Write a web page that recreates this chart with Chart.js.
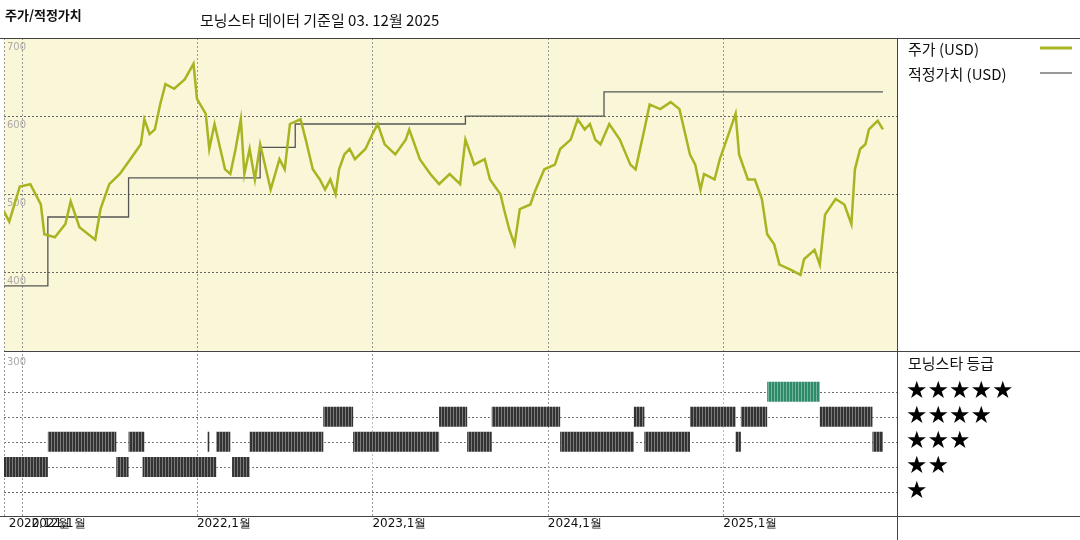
<!DOCTYPE html>
<html><head><meta charset="utf-8">
<script src="https://cdn.jsdelivr.net/npm/chart.js@4"></script>
<style>html,body{margin:0;background:#fff}#c{display:block}</style></head>
<body><canvas id="c" width="1080" height="540"></canvas>
<script>
const priceT=[2020.90,2020.93,2020.99,2021.05,2021.11,2021.13,2021.19,2021.25,2021.28,2021.33,2021.42,2021.45,2021.50,2021.56,2021.62,2021.68,2021.70,2021.73,2021.76,2021.79,2021.82,2021.87,2021.93,2021.98,2022.00,2022.05,2022.07,2022.10,2022.16,2022.19,2022.22,2022.25,2022.27,2022.30,2022.33,2022.36,2022.42,2022.47,2022.50,2022.53,2022.59,2022.62,2022.66,2022.70,2022.73,2022.76,2022.79,2022.81,2022.84,2022.87,2022.90,2022.96,2023.00,2023.03,2023.07,2023.13,2023.19,2023.21,2023.27,2023.33,2023.38,2023.44,2023.50,2023.53,2023.56,2023.58,2023.64,2023.67,2023.73,2023.75,2023.78,2023.81,2023.84,2023.90,2023.93,2023.98,2024.04,2024.07,2024.13,2024.17,2024.21,2024.24,2024.27,2024.30,2024.35,2024.41,2024.47,2024.50,2024.55,2024.58,2024.64,2024.70,2024.75,2024.81,2024.84,2024.87,2024.89,2024.95,2024.98,2025.03,2025.07,2025.09,2025.14,2025.18,2025.22,2025.25,2025.29,2025.32,2025.38,2025.44,2025.46,2025.52,2025.55,2025.58,2025.64,2025.69,2025.73,2025.75,2025.78,2025.81,2025.83,2025.88,2025.91];
const priceV=[478,465,510,513,487,449,445,462,491,458,442,481,513,526,545,564,596,577,583,615,641,635,647,667,622,603,558,590,532,526,558,596,526,558,519,564,506,545,532,590,596,570,532,519,506,519,500,532,551,558,545,558,577,590,564,551,570,583,545,526,513,526,513,570,551,538,545,519,500,481,455,436,481,487,506,532,538,558,570,596,583,590,570,564,590,570,538,532,583,615,609,618,609,551,538,506,526,519,545,577,603,551,519,519,494,449,436,410,404,397,417,429,410,474,494,487,462,532,558,564,583,594,583];
const fairT=[2020.90,2021.15,2021.61,2022.36,2022.56,2023.53,2024.32,2025.91];
const fairV=[383,471,521,560,590,600,631,631];
const rating2=[[2020.89,2021.15],[2021.54,2021.61],[2021.69,2022.11],[2022.20,2022.30]];
const rating3=[[2021.15,2021.54],[2021.61,2021.70],[2022.06,2022.07],[2022.11,2022.19],[2022.30,2022.72],[2022.89,2023.38],[2023.54,2023.68],[2024.07,2024.49],[2024.55,2024.81],[2025.07,2025.10],[2025.85,2025.91]];
const rating4=[[2022.72,2022.89],[2023.38,2023.54],[2023.68,2024.07],[2024.49,2024.55],[2024.81,2025.07],[2025.10,2025.25],[2025.55,2025.85]];
const rating5=[[2025.25,2025.55]];
const priceTicks=[400,500,600,700];
const xTicks=[[2020.95,'2020,12월'],[2021.0,'2021,1월'],[2022,'2022,1월'],[2023,'2023,1월'],[2024,'2024,1월'],[2025,'2025,1월']];
const stars=['★★★★★','★★★★','★★★','★★','★'];

function ratingVal(r){ // rating band below the price band: 25px per step
  return 300-(41+(5-r)*25)/0.78;
}
function segs(list,r){const d=[];list.forEach(s=>{d.push({x:s[0],y:ratingVal(r)},{x:s[1],y:ratingVal(r)},{x:s[1],y:null});});return d;}
const barDs=(list,r,col)=>({type:'line',data:segs(list,r),borderColor:col,borderWidth:20,borderCapStyle:'butt',pointRadius:0,spanGaps:false,order:3});

const deco={id:'deco',
 beforeDatasetsDraw(ch){const c=ch.ctx,x=ch.scales.x,y=ch.scales.y,a=ch.chartArea;
  c.save();
  const y300=y.getPixelForValue(300);
  c.fillStyle='#faf6d8';c.fillRect(a.left,a.top,a.right-a.left,y300-a.top);
  c.strokeStyle='#666';c.lineWidth=1;c.setLineDash([2,2]);
  priceTicks.forEach(v=>{const p=Math.round(y.getPixelForValue(v))+.5;c.beginPath();c.moveTo(a.left,p);c.lineTo(a.right,p);c.stroke();});
  [1,2,3,4,5].forEach(r=>{const p=Math.round(y.getPixelForValue(ratingVal(r)))+.5;c.beginPath();c.moveTo(a.left,p);c.lineTo(a.right,p);c.stroke();});
  c.strokeStyle='#999';
  [2021,2022,2023,2024,2025].forEach(t=>{const p=Math.round(x.getPixelForValue(t))+.5;c.beginPath();c.moveTo(p,a.top);c.lineTo(p,a.bottom);c.stroke();});
  c.beginPath();c.moveTo(a.left+.5,a.top);c.lineTo(a.left+.5,a.bottom);c.stroke();
  c.setLineDash([]);c.strokeStyle='#444';
  c.beginPath();c.moveTo(a.left,Math.round(y300)+.5);c.lineTo(1080,Math.round(y300)+.5);c.stroke();
  c.fillStyle='#aaa';c.font='10px "DejaVu Sans"';c.textBaseline='middle';
  [300,400,500,600,700].forEach(v=>c.fillText(String(v),a.left+3,y.getPixelForValue(v)+(v==300?12:9)));
  c.restore();},
 afterDatasetsDraw(ch){const c=ch.ctx;c.save();c.strokeStyle='rgba(255,255,255,0.35)';c.lineWidth=1;
  for(let px=0;px<900;px+=3){c.beginPath();c.moveTo(px+.5,381);c.lineTo(px+.5,478);c.stroke();}
  c.restore();},
 afterDraw(ch){const c=ch.ctx,x=ch.scales.x,a=ch.chartArea;c.save();
  c.strokeStyle='#444';c.lineWidth=1;
  c.beginPath();c.moveTo(0,a.top+.5);c.lineTo(1080,a.top+.5);c.stroke();
  c.beginPath();c.moveTo(0,a.bottom+.5);c.lineTo(1080,a.bottom+.5);c.stroke();
  c.beginPath();c.moveTo(a.right+.5,a.top);c.lineTo(a.right+.5,540);c.stroke();
  c.fillStyle='#111';c.font='12px "DejaVu Sans"';c.textBaseline='top';
  xTicks.forEach(t=>c.fillText(t[1],x.getPixelForValue(t[0])-(t[0]<2021.5?(t[0]<2021?4:-10):0),518));
  c.font='bold 13px "Noto Sans CJK KR"';c.textBaseline='middle';c.fillText('주가/적정가치',5,15);
  c.font='15px "Noto Sans CJK KR"';c.fillText('모닝스타 데이터 기준일 03. 12월 2025',200,20);
  c.font='15px "Noto Sans CJK KR"';
  c.fillText('주가 (USD)',908,49);c.fillText('적정가치 (USD)',908,74);c.fillText('모닝스타 등급',908,363);
  c.strokeStyle='#a8b420';c.lineWidth=3;c.beginPath();c.moveTo(1040,48);c.lineTo(1072,48);c.stroke();
  c.strokeStyle='#555';c.lineWidth=1.2;c.beginPath();c.moveTo(1040,73);c.lineTo(1072,73);c.stroke();
  c.font='24px "DejaVu Sans"';c.fillStyle='#000';
  stars.forEach((s,i)=>c.fillText(s,906,392+i*25));
  c.restore();}
};

new Chart(document.getElementById('c'),{
 data:{datasets:[
  {type:'line',label:'주가 (USD)',data:priceT.map((t,i)=>({x:t,y:priceV[i]})),borderColor:'#a8b420',borderWidth:2.5,pointRadius:0,tension:0,order:1},
  {type:'line',label:'적정가치 (USD)',data:fairT.map((t,i)=>({x:t,y:fairV[i]})),borderColor:'#555',borderWidth:1.3,pointRadius:0,stepped:'before',order:2},
  barDs(rating2,2,'#333'),barDs(rating3,3,'#333'),barDs(rating4,4,'#333'),barDs(rating5,5,'#2e8b6a')
 ]},
 options:{responsive:false,animation:false,events:[],
  layout:{padding:{left:4,right:183,top:38,bottom:24}},
  plugins:{legend:{display:false},tooltip:{enabled:false}},
  scales:{x:{type:'linear',min:2020.90,max:2025.99,display:false},
          y:{type:'linear',min:700-477/0.78,max:700,display:false}}},
 plugins:[deco]});
</script></body></html>
